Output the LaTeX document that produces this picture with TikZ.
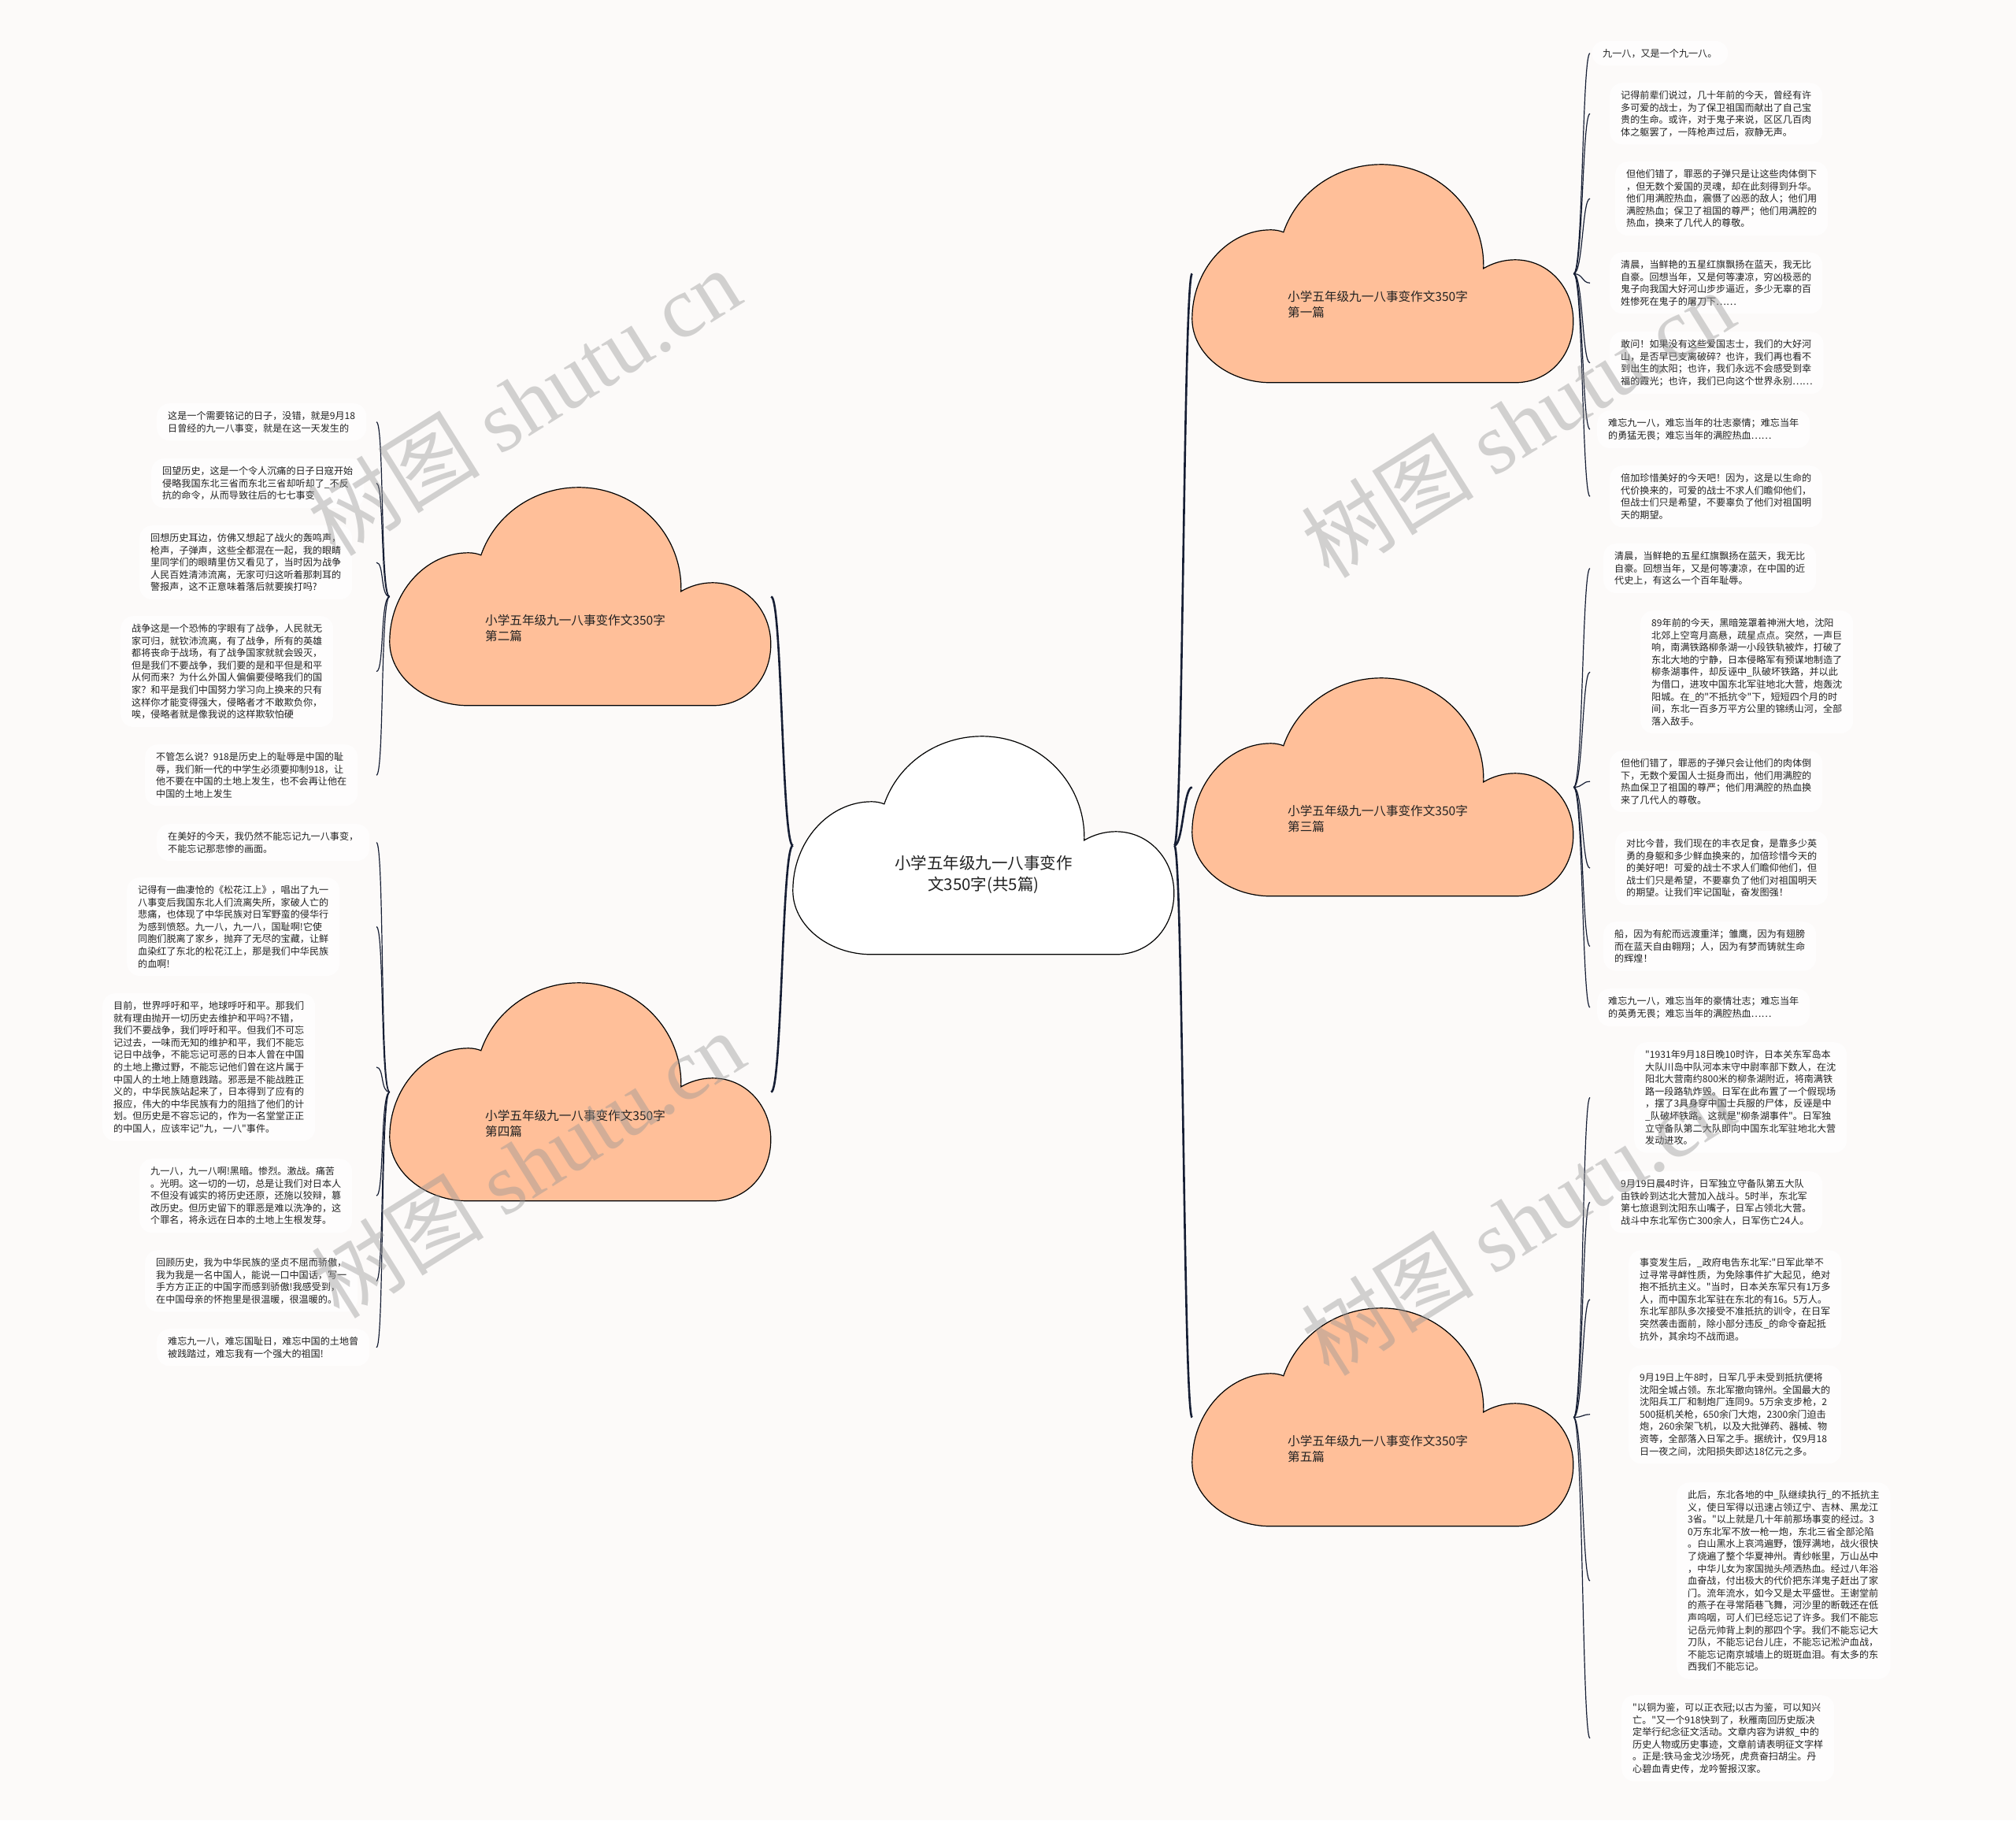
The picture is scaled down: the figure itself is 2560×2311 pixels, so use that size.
\documentclass[tikz,border=0pt]{standalone}
\usepackage{fontspec}
\setmainfont{Noto Sans CJK SC}
\newfontfamily\cjk{Noto Sans CJK SC}
\newfontfamily\wmlatin{Liberation Serif}
\usetikzlibrary{calc}
\definecolor{bg}{RGB}{252,250,249}
\definecolor{boxfill}{RGB}{254,253,253}
\definecolor{peach}{RGB}{255,191,153}
\definecolor{navy}{RGB}{22,30,52}
\definecolor{txt}{RGB}{34,34,34}
\definecolor{wm}{RGB}{150,150,150}
\tikzset{
  cbox/.style={rectangle, minimum width=484pt, minimum height=277pt, inner sep=0pt, draw=none},
  cloudshape/.pic={\path[pic actions] (100,277) .. controls (45,277) and (0,240) .. (0,196)
     .. controls (0,134) and (45,83) .. (100,83) .. controls (106,83) and (111,84) .. (116,86)
     .. controls (134,34) and (184,0) .. (240,0) .. controls (313,0) and (372,59) .. (370,132)
     .. controls (382,125) and (396,121) .. (410,121) .. controls (453,121) and (484,157) .. (484,199)
     .. controls (484,243) and (453,277) .. (410,277) -- cycle;},
  txtitem/.style={anchor=north west, align=left, font=\cjk\fontsize{12.1}{15.6}\selectfont, text=txt,
     fill=boxfill, rounded corners=16pt, inner xsep=14pt, inner ysep=10pt},
  clabel/.style={anchor=west, align=left, font=\cjk\fontsize{15.6}{20}\selectfont, text=txt, inner sep=0pt},
  mainline/.style={draw=navy, line width=2.6pt},
  forkline/.style={draw=navy, line width=1.2pt},
  wmark/.style={font=\cjk\fontsize{110}{110}\selectfont, text=wm, opacity=0.42, rotate=32, inner sep=0pt}
}
\begin{document}
\begin{tikzpicture}[x=1pt,y=-1pt]
\fill[bg] (0,0) rectangle (2560,2311);
\useasboundingbox (0,0) rectangle (2560,2311);

% cloud boxes
\node[cbox] (c0) at (1249,1073.5) {};
\node[cbox] (c1) at (1756,347.5) {};
\node[cbox] (c3) at (1756,999.5) {};
\node[cbox] (c5) at (1756,1799.5) {};
\node[cbox] (c2) at (737,757.5) {};
\node[cbox] (c4) at (737,1386.5) {};
\coordinate (xr) at (2019,0);
\coordinate (xl) at (478,0);

% right items, cloud 1
\node[txtitem] (r1a) at (2021,51.7) {九一八，又是一个九一八。};
\node[txtitem] (r1b) at (2044,105) {记得前辈们说过，几十年前的今天，曾经有许\\
多可爱的战士，为了保卫祖国而献出了自己宝\\
贵的生命。或许，对于鬼子来说，区区几百肉\\
体之躯罢了，一阵枪声过后，寂静无声。};
\node[txtitem] (r1c) at (2051,205) {但他们错了，罪恶的子弹只是让这些肉体倒下\\
，但无数个爱国的灵魂，却在此刻得到升华。\\
他们用满腔热血，震慑了凶恶的敌人；他们用\\
满腔热血；保卫了祖国的尊严；他们用满腔的\\
热血，换来了几代人的尊敬。};
\node[txtitem] (r1d) at (2044,320) {清晨，当鲜艳的五星红旗飘扬在蓝天，我无比\\
自豪。回想当年，又是何等凄凉，穷凶极恶的\\
鬼子向我国大好河山步步逼近，多少无辜的百\\
姓惨死在鬼子的屠刀下……};
\node[txtitem] (r1e) at (2044,421) {敢问！如果没有这些爱国志士，我们的大好河\\
山，是否早已支离破碎？也许，我们再也看不\\
到出生的太阳；也许，我们永远不会感受到幸\\
福的霞光；也许，我们已向这个世界永别……};
\node[txtitem] (r1f) at (2028,521) {难忘九一八，难忘当年的壮志豪情；难忘当年\\
的勇猛无畏；难忘当年的满腔热血……};
\node[txtitem] (r1g) at (2044,591) {倍加珍惜美好的今天吧！因为，这是以生命的\\
代价换来的，可爱的战士不求人们瞻仰他们，\\
但战士们只是希望，不要辜负了他们对祖国明\\
天的期望。};

% right items, cloud 3
\node[txtitem] (r3a) at (2036,690) {清晨，当鲜艳的五星红旗飘扬在蓝天，我无比\\
自豪。回想当年，又是何等凄凉，在中国的近\\
代史上，有这么一个百年耻辱。};
\node[txtitem] (r3b) at (2083,775) {89年前的今天，黑暗笼罩着神洲大地，沈阳\\
北郊上空弯月高悬，疏星点点。突然，一声巨\\
响，南满铁路柳条湖一小段铁轨被炸，打破了\\
东北大地的宁静，日本侵略军有预谋地制造了\\
柳条湖事件，却反诬中\_队破坏铁路，并以此\\
为借口，进攻中国东北军驻地北大营，炮轰沈\\
阳城。在\_的"不抵抗令"下，短短四个月的时\\
间，东北一百多万平方公里的锦绣山河，全部\\
落入敌手。};
\node[txtitem] (r3c) at (2044,953) {但他们错了，罪恶的子弹只会让他们的肉体倒\\
下，无数个爱国人士挺身而出，他们用满腔的\\
热血保卫了祖国的尊严；他们用满腔的热血换\\
来了几代人的尊敬。};
\node[txtitem] (r3d) at (2051,1055) {对比今昔，我们现在的丰衣足食，是靠多少英\\
勇的身躯和多少鲜血换来的，加倍珍惜今天的\\
的美好吧！可爱的战士不求人们瞻仰他们，但\\
战士们只是希望，不要辜负了他们对祖国明天\\
的期望。让我们牢记国耻，奋发图强！};
\node[txtitem] (r3e) at (2036,1170) {船，因为有舵而远渡重洋；雏鹰，因为有翅膀\\
而在蓝天自由翱翔；人，因为有梦而铸就生命\\
的辉煌！};
\node[txtitem] (r3f) at (2028,1255) {难忘九一八，难忘当年的豪情壮志；难忘当年\\
的英勇无畏；难忘当年的满腔热血……};

% right items, cloud 5
\node[txtitem] (r5a) at (2075,1323) {"1931年9月18日晚10时许，日本关东军岛本\\
大队川岛中队河本末守中尉率部下数人，在沈\\
阳北大营南约800米的柳条湖附近，将南满铁\\
路一段路轨炸毁。日军在此布置了一个假现场\\
，摆了3具身穿中国士兵服的尸体，反诬是中\\
\_队破坏铁路。这就是"柳条湖事件"。日军独\\
立守备队第二大队即向中国东北军驻地北大营\\
发动进攻。};
\node[txtitem] (r5b) at (2044,1487) {9月19日晨4时许，日军独立守备队第五大队\\
由铁岭到达北大营加入战斗。5时半，东北军\\
第七旅退到沈阳东山嘴子，日军占领北大营。\\
战斗中东北军伤亡300余人，日军伤亡24人。};
\node[txtitem] (r5c) at (2068,1587) {事变发生后，\_政府电告东北军:"日军此举不\\
过寻常寻衅性质，为免除事件扩大起见，绝对\\
抱不抵抗主义。"当时，日本关东军只有1万多\\
人，而中国东北军驻在东北的有16。5万人。\\
东北军部队多次接受不准抵抗的训令，在日军\\
突然袭击面前，除小部分违反\_的命令奋起抵\\
抗外，其余均不战而退。};
\node[txtitem] (r5d) at (2068,1733) {9月19日上午8时，日军几乎未受到抵抗便将\\
沈阳全城占领。东北军撤向锦州。全国最大的\\
沈阳兵工厂和制炮厂连同9。5万余支步枪，2\\
500挺机关枪，650余门大炮，2300余门迫击\\
炮，260余架飞机，以及大批弹药、器械、物\\
资等，全部落入日军之手。据统计，仅9月18\\
日一夜之间，沈阳损失即达18亿元之多。};
\node[txtitem] (r5e) at (2129,1882) {此后，东北各地的中\_队继续执行\_的不抵抗主\\
义，使日军得以迅速占领辽宁、吉林、黑龙江\\
3省。"以上就是几十年前那场事变的经过。3\\
0万东北军不放一枪一炮，东北三省全部沦陷\\
。白山黑水上哀鸿遍野，饿殍满地，战火很快\\
了烧遍了整个华夏神州。青纱帐里，万山丛中\\
，中华儿女为家国抛头颅洒热血。经过八年浴\\
血奋战，付出极大的代价把东洋鬼子赶出了家\\
门。流年流水，如今又是太平盛世。王谢堂前\\
的燕子在寻常陌巷飞舞，河沙里的断戟还在低\\
声呜咽，可人们已经忘记了许多。我们不能忘\\
记岳元帅背上刺的那四个字。我们不能忘记大\\
刀队，不能忘记台儿庄，不能忘记淞沪血战，\\
不能忘记南京城墙上的斑斑血泪。有太多的东\\
西我们不能忘记。};
\node[txtitem] (r5f) at (2059,2152) {"以铜为鉴，可以正衣冠;以古为鉴，可以知兴\\
亡。"又一个918快到了，秋雁南回历史版决\\
定举行纪念征文活动。文章内容为讲叙\_中的\\
历史人物或历史事迹，文章前请表明征文字样\\
。正是:铁马金戈沙场死，虎贲奋扫胡尘。丹\\
心碧血青史传，龙吟誓报汉家。};

% left items, cloud 2
\node[txtitem] (l2a) at (199,512) {这是一个需要铭记的日子，没错，就是9月18\\
日曾经的九一八事变，就是在这一天发生的};
\node[txtitem] (l2b) at (192,582) {回望历史，这是一个令人沉痛的日子日寇开始\\
侵略我国东北三省而东北三省却听却了\_不反\\
抗的命令，从而导致往后的七七事变};
\node[txtitem] (l2c) at (177,667) {回想历史耳边，仿佛又想起了战火的轰鸣声，\\
枪声，子弹声，这些全都混在一起，我的眼睛\\
里同学们的眼睛里仿又看见了，当时因为战争\\
人民百姓清沛流离，无家可归这听着那刺耳的\\
警报声，这不正意味着落后就要挨打吗?};
\node[txtitem] (l2d) at (153,782) {战争这是一个恐怖的字眼有了战争，人民就无\\
家可归，就钦沛流离，有了战争，所有的英雄\\
都将丧命于战场，有了战争国家就就会毁灭，\\
但是我们不要战争，我们要的是和平但是和平\\
从何而来？为什么外国人偏偏要侵略我们的国\\
家？和平是我们中国努力学习向上换来的只有\\
这样你才能变得强大，侵略者才不敢欺负你，\\
唉，侵略者就是像我说的这样欺软怕硬};
\node[txtitem] (l2e) at (184,945) {不管怎么说？918是历史上的耻辱是中国的耻\\
辱，我们新一代的中学生必须要抑制918，让\\
他不要在中国的土地上发生，也不会再让他在\\
中国的土地上发生};

% left items, cloud 4
\node[txtitem] (l4a) at (199,1046) {在美好的今天，我仍然不能忘记九一八事变，\\
不能忘记那悲惨的画面。};
\node[txtitem] (l4b) at (161,1114) {记得有一曲凄怆的《松花江上》，唱出了九一\\
八事变后我国东北人们流离失所，家破人亡的\\
悲痛，也体现了中华民族对日军野蛮的侵华行\\
为感到愤怒。九一八，九一八，国耻啊!它使\\
同胞们脱离了家乡，抛弃了无尽的宝藏，让鲜\\
血染红了东北的松花江上，那是我们中华民族\\
的血啊!};
\node[txtitem] (l4c) at (130,1261) {目前，世界呼吁和平，地球呼吁和平。那我们\\
就有理由抛开一切历史去维护和平吗?不错，\\
我们不要战争，我们呼吁和平。但我们不可忘\\
记过去，一味而无知的维护和平，我们不能忘\\
记日中战争，不能忘记可恶的日本人曾在中国\\
的土地上撒过野，不能忘记他们曾在这片属于\\
中国人的土地上随意践踏。邪恶是不能战胜正\\
义的，中华民族站起来了，日本得到了应有的\\
报应，伟大的中华民族有力的阻挡了他们的计\\
划。但历史是不容忘记的，作为一名堂堂正正\\
的中国人，应该牢记"九，一八"事件。};
\node[txtitem] (l4d) at (177,1471) {九一八，九一八啊!黑暗。惨烈。激战。痛苦\\
。光明。这一切的一切，总是让我们对日本人\\
不但没有诚实的将历史还原，还施以狡辩，篡\\
改历史。但历史留下的罪恶是难以洗净的，这\\
个罪名，将永远在日本的土地上生根发芽。};
\node[txtitem] (l4e) at (184,1587) {回顾历史，我为中华民族的坚贞不屈而骄傲，\\
我为我是一名中国人，能说一口中国话，写一\\
手方方正正的中国字而感到骄傲!我感受到，\\
在中国母亲的怀抱里是很温暖，很温暖的。};
\node[txtitem] (l4f) at (199,1687) {难忘九一八，难忘国耻日，难忘中国的土地曾\\
被践踏过，难忘我有一个强大的祖国!};

% main connectors
\draw[mainline] (c0.west) .. controls +(-14,0) and +(14,0) .. (c2.east);
\draw[mainline] (c0.west) .. controls +(-14,0) and +(14,0) .. (c4.east);
\draw[mainline] (c0.east) .. controls +(11,0) and +(-11,0) .. (c1.west);
\draw[mainline] (c0.east) .. controls +(11,0) and +(-11,0) .. (c3.west);
\draw[mainline] (c0.east) .. controls +(11,0) and +(-11,0) .. (c5.west);

% fork connectors
\foreach \n in {r1a,r1b,r1c,r1d,r1e,r1f,r1g}
  \draw[forkline] (c1.east) .. controls +(12,0) and +(-10,0) .. (\n.west -| xr);
\foreach \n in {r3a,r3b,r3c,r3d,r3e,r3f}
  \draw[forkline] (c3.east) .. controls +(12,0) and +(-10,0) .. (\n.west -| xr);
\foreach \n in {r5a,r5b,r5c,r5d,r5e,r5f}
  \draw[forkline] (c5.east) .. controls +(12,0) and +(-10,0) .. (\n.west -| xr);
\foreach \n in {l2a,l2b,l2c,l2d,l2e}
  \draw[forkline] (c2.west) .. controls +(-12,0) and +(10,0) .. (\n.east -| xl);
\foreach \n in {l4a,l4b,l4c,l4d,l4e,l4f}
  \draw[forkline] (c4.west) .. controls +(-12,0) and +(10,0) .. (\n.east -| xl);

% clouds
\pic[fill=white, draw=black, line width=1.2pt] at (c0.north west) {cloudshape};
\pic[fill=peach, draw=black, line width=1.2pt] at (c1.north west) {cloudshape};
\pic[fill=peach, draw=black, line width=1.2pt] at (c3.north west) {cloudshape};
\pic[fill=peach, draw=black, line width=1.2pt] at (c5.north west) {cloudshape};
\pic[fill=peach, draw=black, line width=1.2pt] at (c2.north west) {cloudshape};
\pic[fill=peach, draw=black, line width=1.2pt] at (c4.north west) {cloudshape};

% cloud labels
\node[font=\cjk\fontsize{20.5}{27}\selectfont, align=center, text=txt, inner sep=0pt] (c0l) at (1249,1110.5) {小学五年级九一八事变作\\文350字(共5篇)};
\node[clabel] (c1l) at (1635,387) {小学五年级九一八事变作文350字\\第一篇};
\node[clabel] (c3l) at (1635,1039) {小学五年级九一八事变作文350字\\第三篇};
\node[clabel] (c5l) at (1635,1839) {小学五年级九一八事变作文350字\\第五篇};
\node[clabel] (c2l) at (616,797) {小学五年级九一八事变作文350字\\第二篇};
\node[clabel] (c4l) at (616,1426) {小学五年级九一八事变作文350字\\第四篇};

% watermarks
\node[wmark] (w1) at (665,510) {树图 {\wmlatin shutu.cn}};
\node[wmark] (w2) at (1927,538) {树图 {\wmlatin shutu.cn}};
\node[wmark] (w3) at (670,1478) {树图 {\wmlatin shutu.cn}};
\node[wmark] (w4) at (1927,1551) {树图 {\wmlatin shutu.cn}};
\end{tikzpicture}
\end{document}
